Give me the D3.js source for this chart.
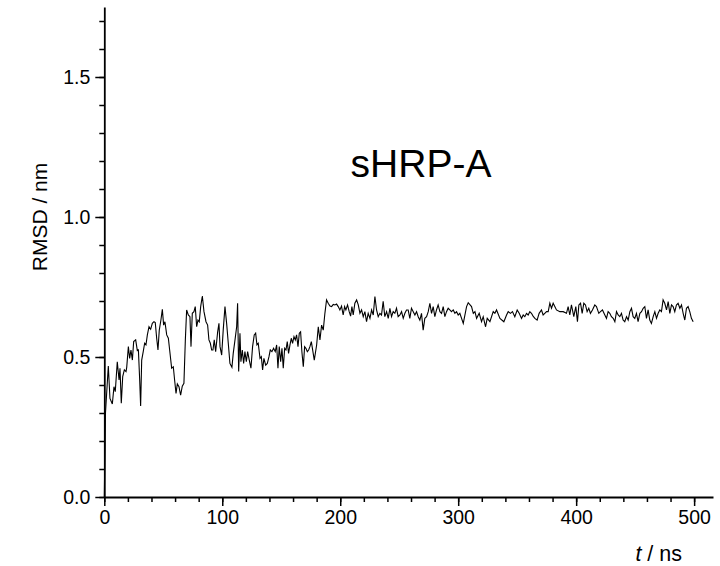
<!DOCTYPE html>
<html>
<head>
<meta charset="utf-8">
<script src="https://cdn.jsdelivr.net/npm/d3@7"></script>
<style>
  body { margin: 0; background: #fff; }
  text { font-family: "Liberation Sans", Arial, sans-serif; fill: #000; }
  .axis path, .axis line { stroke: #000; }
</style>
</head>
<body>
<div id="chart-area"></div>
<script>
const WIDTH = 720;
const HEIGHT = 566;

// time in ns
const timeNs = [0, 1, 3.4, 4.8, 6.8, 8.2, 9.3, 11, 12.5, 13.3, 14.4, 15.6, 17, 18.4, 19, 20.4, 21.5, 22.6, 23.8, 24.9,
  26.6, 28, 28.9, 30, 30.8, 31.7, 33, 34.2, 35.3, 36.5, 37.9, 39.3, 40.7, 42.1, 43.2, 44.4, 45.5, 46.6, 48, 49.2,
  50.3, 51.4, 52.9, 54.3, 55.4, 57.1, 58.5, 59.6, 60.8, 61.9, 63.3, 64.7, 66.1, 67.5, 68.7, 69.8, 71.2, 72.6, 73.5, 74.6,
  76, 77.1, 78.3, 79.4, 80.5, 81.7, 83.1, 84.5, 86.2, 87.6, 88.7, 89.9, 91, 92.1, 93.2, 94.4, 96.1, 97.2, 98.1, 99.5,
  100.8, 102.3, 103.7, 105.1, 106.5, 108.2, 109.3, 110.8, 112.2, 113, 113.9, 115, 115.8, 117, 118.1, 119.2, 120.4, 121.5, 122.9, 124.3,
  125.7, 127.1, 128.3, 129.4, 130.5, 132, 133.1, 134.2, 135.3, 136.8, 138.2, 139.6, 140.7, 142.1, 143.5, 144.9, 146.1, 147.2, 148.3, 149.5,
  150.6, 151.7, 152.9, 154, 155.1, 156.2, 157.4, 158.5, 159.6, 160.8, 161.9, 163, 164.2, 165.3, 166.4, 167.5, 168.7, 169.8, 170.9, 172.1,
  173.2, 174.3, 175.5, 178, 180, 181.4, 182.8, 184.2, 185.6, 187, 188.4, 189.8, 191.3, 192.7, 194.1, 195.5, 196.9, 198.3, 199.7, 201.1,
  202.5, 203.7, 204.8, 206.2, 207.6, 208.8, 209.9, 211, 212.4, 213.9, 215.3, 216.7, 218.1, 219.5, 220.9, 222.3, 223.7, 225.2, 226.6, 228,
  229.4, 230.8, 232.2, 233.6, 235, 236.4, 237.8, 239.3, 240.7, 242.1, 243.5, 244.9, 246.3, 247.7, 249.1, 250.6, 252, 253.4, 254.8, 256.2,
  257.6, 259, 260.4, 261.9, 263.3, 264.7, 266.1, 267.5, 268.9, 270.3, 271.7, 273.2, 274.6, 276, 277.4, 278.8, 280.2, 281.6, 283, 284.5,
  285.9, 287.3, 288.7, 290.1, 291.5, 292.9, 294.3, 295.8, 297.2, 298.6, 300, 301.4, 304.3, 307.1, 308.5, 311.3, 312.8, 314.2, 315.6, 317.8,
  319.8, 321.2, 323.2, 324.6, 326.9, 329.7, 331.1, 332.5, 335.4, 338.7, 341, 342.4, 344.3, 346, 348, 350, 351.7, 353.7, 355.1, 356.5,
  357.9, 359.3, 360.7, 362.1, 363.5, 365, 366.9, 368.6, 370.6, 372, 373.4, 374.9, 376.3, 377.7, 379.1, 380.5, 381.9, 383.3, 386.2, 389,
  391.8, 393.2, 394.6, 396, 398, 399.7, 401.1, 402.3, 403.7, 405.1, 406.5, 407.9, 409.3, 410.7, 412.1, 413.8, 415.8, 417.2, 419.2, 420.6,
  422.3, 424.3, 425.7, 427.1, 428.5, 429.9, 431.4, 432.8, 434.2, 435.6, 437, 438.4, 439.8, 441.2, 442.7, 444.1, 445.5, 446.9, 448.3, 449.7,
  451.1, 452.5, 454, 455.4, 456.8, 458.2, 459.6, 461, 462.4, 463.8, 465.3, 466.7, 468.1, 469.5, 470.9, 472.3, 473.7, 475.1, 476.6, 478,
  479.4, 480.8, 482.2, 483.6, 485, 486.4, 487.9, 489.3, 490.7, 492.1, 493.5, 494.9, 496.3, 497.7, 499.2];

// RMSD in nm
const rmsdNm = [0, 0.30, 0.468, 0.352, 0.332, 0.394, 0.376, 0.483, 0.418, 0.460, 0.335, 0.430, 0.454, 0.448, 0.463, 0.537, 0.495, 0.525, 0.489, 0.555,
  0.561, 0.523, 0.525, 0.418, 0.325, 0.489, 0.519, 0.549, 0.543, 0.579, 0.608, 0.599, 0.620, 0.626, 0.623, 0.567, 0.525, 0.596, 0.632, 0.670,
  0.614, 0.626, 0.579, 0.567, 0.525, 0.460, 0.465, 0.418, 0.370, 0.404, 0.394, 0.364, 0.396, 0.406, 0.561, 0.668, 0.650, 0.644, 0.537, 0.656,
  0.662, 0.680, 0.608, 0.632, 0.626, 0.680, 0.718, 0.662, 0.626, 0.614, 0.561, 0.549, 0.525, 0.525, 0.561, 0.519, 0.590, 0.620, 0.537, 0.507,
  0.596, 0.680, 0.620, 0.549, 0.477, 0.463, 0.513, 0.561, 0.608, 0.692, 0.448, 0.585, 0.483, 0.525, 0.477, 0.519, 0.483, 0.519, 0.489, 0.460,
  0.537, 0.579, 0.585, 0.543, 0.549, 0.495, 0.501, 0.454, 0.495, 0.471, 0.477, 0.501, 0.525, 0.519, 0.531, 0.519, 0.543, 0.460, 0.537, 0.483,
  0.531, 0.460, 0.531, 0.525, 0.555, 0.513, 0.543, 0.567, 0.549, 0.573, 0.561, 0.579, 0.537, 0.585, 0.590, 0.519, 0.465, 0.537, 0.531, 0.519,
  0.525, 0.537, 0.555, 0.489, 0.543, 0.608, 0.561, 0.614, 0.596, 0.656, 0.704, 0.692, 0.682, 0.680, 0.688, 0.686, 0.689, 0.680, 0.668, 0.682,
  0.650, 0.680, 0.668, 0.686, 0.662, 0.646, 0.680, 0.650, 0.692, 0.704, 0.686, 0.656, 0.668, 0.644, 0.662, 0.626, 0.656, 0.638, 0.668, 0.650,
  0.716, 0.668, 0.644, 0.656, 0.650, 0.699, 0.644, 0.662, 0.638, 0.674, 0.644, 0.662, 0.656, 0.674, 0.644, 0.650, 0.662, 0.638, 0.656, 0.668,
  0.668, 0.638, 0.674, 0.662, 0.650, 0.662, 0.644, 0.632, 0.656, 0.596, 0.638, 0.644, 0.662, 0.692, 0.656, 0.680, 0.644, 0.668, 0.686, 0.662,
  0.656, 0.680, 0.644, 0.662, 0.674, 0.668, 0.662, 0.668, 0.656, 0.662, 0.650, 0.656, 0.620, 0.680, 0.694, 0.680, 0.656, 0.662, 0.638, 0.656,
  0.626, 0.644, 0.608, 0.638, 0.626, 0.662, 0.656, 0.668, 0.638, 0.626, 0.650, 0.662, 0.656, 0.662, 0.644, 0.668, 0.656, 0.638, 0.650, 0.644,
  0.656, 0.650, 0.662, 0.656, 0.646, 0.638, 0.632, 0.656, 0.668, 0.650, 0.656, 0.662, 0.662, 0.692, 0.674, 0.692, 0.680, 0.668, 0.662, 0.662,
  0.656, 0.680, 0.650, 0.686, 0.644, 0.680, 0.626, 0.686, 0.692, 0.656, 0.692, 0.686, 0.662, 0.674, 0.656, 0.668, 0.686, 0.680, 0.656, 0.662,
  0.668, 0.650, 0.638, 0.662, 0.656, 0.644, 0.638, 0.626, 0.662, 0.650, 0.644, 0.656, 0.632, 0.626, 0.644, 0.632, 0.662, 0.674, 0.644, 0.638,
  0.656, 0.626, 0.656, 0.662, 0.674, 0.680, 0.638, 0.668, 0.632, 0.620, 0.644, 0.662, 0.638, 0.656, 0.668, 0.662, 0.704, 0.692, 0.668, 0.698,
  0.656, 0.686, 0.680, 0.662, 0.686, 0.692, 0.674, 0.686, 0.656, 0.632, 0.674, 0.680, 0.662, 0.638, 0.626];

const xMajorTicks = [0, 100, 200, 300, 400, 500];
const yMajorTicks = [0, 0.5, 1.0, 1.5];

const data = timeNs.map((t, i) => ({ t: t, r: rmsdNm[i] }));

let svg = d3.select("#chart-area").append("svg")
    .attr("width", WIDTH)
    .attr("height", HEIGHT);

let xScale = d3.scaleLinear().domain([0, 516]).range([104.3, 713]);
let yScale = d3.scaleLinear().domain([0, 1.75]).range([497, 7]);

// minor ticks first, then major axis on top
svg.append("g")
    .attr("class", "axis")
    .attr("transform", `translate(0,${yScale(0)})`)
    .call(d3.axisBottom(xScale).tickValues(d3.range(0, 516, 20)).tickSize(5).tickFormat(""))
    .call(g => g.select(".domain").remove())
    .selectAll("line").attr("stroke-width", 1.5);

svg.append("g")
    .attr("class", "axis")
    .attr("transform", `translate(${xScale(0)},0)`)
    .call(d3.axisLeft(yScale).tickValues(d3.range(0, 1.75, 0.1)).tickSize(5).tickFormat(""))
    .call(g => g.select(".domain").remove())
    .selectAll("line").attr("stroke-width", 1.5);

let xAxis = svg.append("g")
    .attr("class", "axis")
    .attr("transform", `translate(0,${yScale(0)})`)
    .call(d3.axisBottom(xScale).tickValues(xMajorTicks).tickSize(9).tickSizeOuter(0).tickPadding(4).tickFormat(d3.format("d")));
xAxis.select(".domain").attr("stroke-width", 1.8);
xAxis.selectAll(".tick line").attr("stroke-width", 1.5);
xAxis.selectAll("text").style("font-size", "19.5px");

let yAxis = svg.append("g")
    .attr("class", "axis")
    .attr("transform", `translate(${xScale(0)},0)`)
    .call(d3.axisLeft(yScale).tickValues(yMajorTicks).tickSize(9).tickSizeOuter(0).tickPadding(5).tickFormat(d3.format(".1f")));
yAxis.select(".domain").attr("stroke-width", 1.8);
yAxis.selectAll(".tick line").attr("stroke-width", 1.5);
yAxis.selectAll("text").style("font-size", "19.5px");

// the trajectory
let line = d3.line()
    .x(d => xScale(d.t))
    .y(d => yScale(d.r));

svg.append("path")
    .datum(data)
    .attr("fill", "none")
    .attr("stroke", "#000")
    .attr("stroke-width", 1.1)
    .attr("d", line);

// labels
svg.append("text")
    .attr("transform", "translate(47,217) rotate(-90)")
    .attr("text-anchor", "middle")
    .style("font-size", "21px")
    .text("RMSD / nm");

let tLabel = svg.append("text")
    .attr("x", 682)
    .attr("y", 561)
    .attr("text-anchor", "end")
    .style("font-size", "21.5px");
tLabel.append("tspan").style("font-style", "italic").text("t");
tLabel.append("tspan").text(" / ns");

svg.append("text")
    .attr("x", 421)
    .attr("y", 177)
    .attr("text-anchor", "middle")
    .style("font-size", "39px")
    .text("sHRP-A");
</script>
</body>
</html>
